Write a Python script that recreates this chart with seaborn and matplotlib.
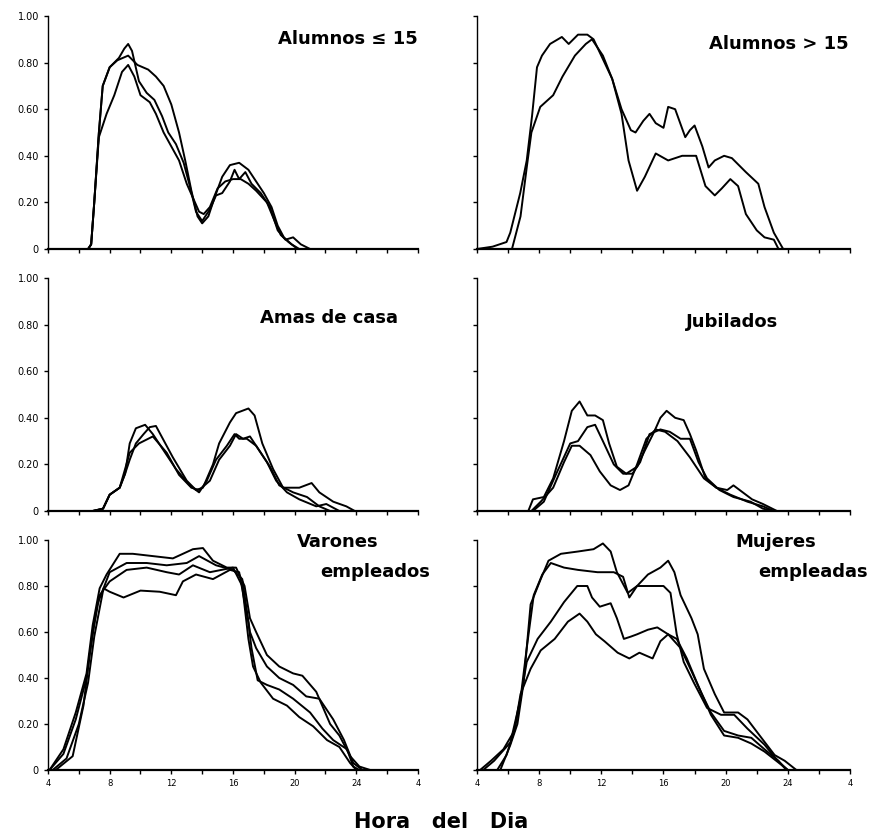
import numpy as np
import pandas as pd
import matplotlib
matplotlib.use("Agg")
import matplotlib.pyplot as plt
import seaborn as sns

# hour-of-day positions (4 .. 28 = 4 next morning) and share values
# --- Alumnos <= 15
alu15_a_h = [4, 6.6, 6.8, 7.0, 7.3, 7.55, 8.0, 8.5, 9.2, 9.8, 10.5, 11.0, 11.5, 12.0, 12.5, 12.9, 13.3, 13.7, 14.0, 14.4, 14.8, 15.3, 15.8, 16.4, 17.0, 17.5, 18.0, 18.5, 18.9, 19.3, 19.8, 20.3, 28]
alu15_a_v = [0, 0, 0.02, 0.2, 0.5, 0.7, 0.78, 0.81, 0.83, 0.79, 0.77, 0.74, 0.70, 0.62, 0.50, 0.38, 0.25, 0.14, 0.11, 0.14, 0.22, 0.31, 0.36, 0.37, 0.34, 0.29, 0.24, 0.18, 0.10, 0.05, 0.02, 0, 0]
alu15_b_h = [4, 6.6, 6.8, 7.0, 7.3, 7.55, 8.0, 8.6, 8.95, 9.2, 9.45, 9.9, 10.4, 10.9, 11.4, 11.8, 12.3, 12.8, 13.2, 13.6, 14.0, 14.5, 14.9, 15.3, 15.8, 16.1, 16.4, 16.8, 17.2, 17.8, 18.4, 18.9, 19.4, 19.9, 20.4, 21.0, 28]
alu15_b_v = [0, 0, 0.02, 0.2, 0.5, 0.7, 0.78, 0.82, 0.86, 0.88, 0.85, 0.72, 0.67, 0.64, 0.57, 0.50, 0.45, 0.37, 0.27, 0.16, 0.12, 0.17, 0.23, 0.24, 0.29, 0.34, 0.30, 0.33, 0.28, 0.24, 0.18, 0.08, 0.04, 0.05, 0.02, 0, 0]
alu15_c_h = [4, 6.6, 6.8, 7.0, 7.3, 7.8, 8.3, 8.8, 9.2, 9.6, 10.0, 10.6, 11.0, 11.5, 12.0, 12.5, 13.0, 13.4, 13.8, 14.1, 14.5, 15.0, 15.5, 16.0, 16.5, 17.0, 17.5, 18.2, 18.7, 19.1, 19.6, 20.2, 28]
alu15_c_v = [0, 0, 0.02, 0.2, 0.48, 0.58, 0.66, 0.76, 0.79, 0.74, 0.66, 0.63, 0.58, 0.50, 0.44, 0.38, 0.28, 0.22, 0.16, 0.15, 0.18, 0.26, 0.29, 0.30, 0.30, 0.28, 0.25, 0.20, 0.12, 0.06, 0.03, 0, 0]

# --- Alumnos > 15
alu16_a_h = [4, 5.0, 5.9, 6.14, 6.78, 7.2, 7.54, 7.86, 8.18, 8.7, 9.46, 9.9, 10.5, 11.1, 11.5, 12.7, 13.3, 13.75, 14.3, 14.8, 15.5, 16.3, 17.2, 18.1, 18.7, 19.3, 19.75, 20.3, 20.8, 21.3, 22.0, 22.5, 23.1, 23.4, 28]
alu16_a_v = [0, 0.01, 0.03, 0.07, 0.24, 0.38, 0.57, 0.78, 0.83, 0.88, 0.91, 0.88, 0.92, 0.92, 0.90, 0.73, 0.58, 0.38, 0.25, 0.31, 0.41, 0.38, 0.40, 0.40, 0.27, 0.23, 0.26, 0.30, 0.27, 0.15, 0.08, 0.05, 0.04, 0, 0]
alu16_b_h = [4, 6.25, 6.8, 7.2, 7.5, 8.07, 8.9, 9.5, 10.3, 11.0, 11.4, 12.1, 12.7, 13.3, 13.9, 14.2, 14.7, 15.1, 15.5, 16.0, 16.3, 16.75, 17.4, 17.7, 18.0, 18.5, 18.9, 19.3, 19.9, 20.4, 21.3, 22.1, 22.5, 23.1, 23.7, 28]
alu16_b_v = [0, 0, 0.14, 0.35, 0.50, 0.61, 0.66, 0.74, 0.83, 0.88, 0.90, 0.83, 0.73, 0.60, 0.51, 0.50, 0.55, 0.58, 0.54, 0.52, 0.61, 0.60, 0.48, 0.51, 0.53, 0.44, 0.35, 0.38, 0.40, 0.39, 0.33, 0.28, 0.18, 0.07, 0, 0]

# --- Amas de casa
amas_a_h = [4, 6.9, 7.57, 8.0, 8.65, 9.0, 9.3, 9.7, 10.2, 10.6, 11.0, 12.1, 13.0, 13.6, 14.05, 14.7, 15.1, 15.8, 16.2, 17.0, 17.4, 17.9, 18.6, 19.25, 20.3, 21.1, 21.6, 22.5, 23.35, 23.9, 28]
amas_a_v = [0, 0, 0.01, 0.07, 0.10, 0.16, 0.22, 0.29, 0.33, 0.36, 0.365, 0.23, 0.13, 0.09, 0.10, 0.20, 0.29, 0.38, 0.42, 0.44, 0.41, 0.29, 0.18, 0.10, 0.10, 0.12, 0.08, 0.04, 0.02, 0, 0]
amas_b_h = [4, 6.9, 7.57, 8.0, 8.65, 9.0, 9.3, 9.7, 10.3, 10.8, 11.5, 12.3, 13.2, 13.8, 14.3, 14.9, 15.6, 16.1, 16.4, 16.9, 17.5, 18.2, 18.8, 19.5, 20.3, 21.4, 22.05, 22.9, 28]
amas_b_v = [0, 0, 0.01, 0.07, 0.10, 0.16, 0.29, 0.355, 0.37, 0.33, 0.26, 0.18, 0.11, 0.08, 0.13, 0.22, 0.28, 0.33, 0.31, 0.31, 0.28, 0.21, 0.13, 0.08, 0.05, 0.02, 0.03, 0, 0]
amas_c_h = [4, 6.9, 7.57, 8.0, 8.65, 9.0, 9.3, 9.9, 10.8, 11.7, 12.5, 13.3, 13.8, 14.5, 15.1, 15.8, 16.2, 16.65, 17.1, 17.7, 18.4, 19.0, 19.9, 20.8, 21.6, 22.3, 28]
amas_c_v = [0, 0, 0.01, 0.07, 0.10, 0.18, 0.25, 0.29, 0.32, 0.25, 0.155, 0.10, 0.09, 0.13, 0.22, 0.28, 0.33, 0.31, 0.32, 0.26, 0.19, 0.11, 0.08, 0.06, 0.02, 0, 0]

# --- Jubilados
jub_a_h = [4, 7.3, 7.6, 8.3, 8.9, 9.6, 10.1, 10.6, 11.1, 11.6, 12.1, 12.5, 13.0, 13.6, 14.3, 14.8, 15.4, 15.8, 16.2, 16.75, 17.3, 17.7, 18.1, 18.7, 19.4, 20.1, 20.5, 20.9, 21.7, 22.4, 23.3, 28]
jub_a_v = [0, 0, 0.05, 0.06, 0.14, 0.30, 0.43, 0.47, 0.41, 0.41, 0.39, 0.29, 0.19, 0.16, 0.19, 0.26, 0.34, 0.40, 0.43, 0.40, 0.39, 0.33, 0.26, 0.14, 0.10, 0.09, 0.11, 0.09, 0.05, 0.03, 0, 0]
jub_b_h = [4, 7.6, 8.3, 9.1, 10.0, 10.5, 11.1, 11.6, 12.1, 12.8, 13.4, 14.0, 14.5, 15.1, 15.8, 16.4, 17.1, 17.7, 18.25, 18.8, 19.6, 20.5, 21.6, 22.4, 23.1, 28]
jub_b_v = [0, 0, 0.04, 0.16, 0.29, 0.30, 0.36, 0.37, 0.30, 0.20, 0.16, 0.16, 0.21, 0.33, 0.35, 0.34, 0.31, 0.31, 0.21, 0.14, 0.09, 0.06, 0.04, 0.01, 0, 0]
jub_c_h = [4, 7.5, 8.1, 8.9, 9.6, 10.1, 10.6, 11.3, 11.9, 12.6, 13.2, 13.75, 14.3, 14.9, 15.5, 16.1, 16.9, 17.7, 18.6, 19.4, 20.3, 21.4, 22.4, 23.1, 28]
jub_c_v = [0, 0, 0.04, 0.10, 0.21, 0.28, 0.28, 0.24, 0.17, 0.11, 0.09, 0.11, 0.20, 0.31, 0.35, 0.34, 0.30, 0.23, 0.14, 0.10, 0.07, 0.04, 0.02, 0, 0]

# --- Varones empleados
var_a_h = [4, 4.1, 5.0, 5.8, 6.5, 6.9, 7.35, 7.8, 8.65, 9.5, 10.8, 12.1, 13.4, 14.05, 14.7, 15.6, 16.2, 16.75, 17.1, 17.5, 18.2, 19.0, 19.9, 20.5, 21.4, 22.3, 22.9, 23.6, 24.2, 24.9, 28]
var_a_v = [0, 0, 0.09, 0.25, 0.42, 0.63, 0.79, 0.85, 0.94, 0.94, 0.93, 0.92, 0.96, 0.965, 0.91, 0.88, 0.88, 0.80, 0.66, 0.60, 0.50, 0.45, 0.42, 0.41, 0.34, 0.20, 0.15, 0.06, 0.015, 0, 0]
var_b_h = [4, 4.5, 5.6, 6.3, 6.7, 7.2, 8.0, 9.1, 10.4, 11.7, 13.0, 13.8, 14.9, 16.0, 16.6, 17.1, 17.5, 18.2, 19.0, 19.9, 20.75, 21.6, 22.5, 23.2, 23.8, 24.4, 28]
var_b_v = [0, 0, 0.06, 0.28, 0.50, 0.72, 0.86, 0.90, 0.90, 0.89, 0.90, 0.93, 0.89, 0.87, 0.83, 0.60, 0.53, 0.45, 0.40, 0.37, 0.32, 0.31, 0.22, 0.13, 0.03, 0, 0]
var_c_h = [4, 4.1, 5.0, 5.8, 6.5, 6.9, 7.35, 8.0, 9.1, 10.4, 11.7, 12.5, 13.4, 14.5, 16.0, 16.6, 17.0, 17.3, 17.8, 18.6, 19.5, 20.3, 21.2, 22.1, 22.9, 23.6, 24.0, 28]
var_c_v = [0, 0, 0.07, 0.22, 0.40, 0.60, 0.76, 0.82, 0.87, 0.88, 0.86, 0.85, 0.89, 0.86, 0.88, 0.80, 0.57, 0.45, 0.38, 0.31, 0.28, 0.23, 0.19, 0.13, 0.10, 0.03, 0, 0]
var_d_h = [4, 4.3, 5.2, 6.0, 6.6, 7.0, 7.6, 8.0, 8.9, 10.0, 11.25, 12.3, 12.75, 13.6, 14.7, 15.8, 16.4, 17.0, 17.2, 17.6, 18.2, 19.0, 19.9, 21.0, 21.8, 22.5, 23.4, 23.8, 24.2, 28]
var_d_v = [0, 0, 0.05, 0.20, 0.38, 0.58, 0.79, 0.775, 0.75, 0.78, 0.775, 0.76, 0.82, 0.85, 0.83, 0.87, 0.86, 0.64, 0.53, 0.39, 0.37, 0.35, 0.31, 0.25, 0.18, 0.13, 0.09, 0.015, 0, 0]

# --- Mujeres empleadas
muj_a_h = [4, 5.5, 6.15, 6.6, 7.0, 7.45, 8.1, 8.6, 9.4, 10.5, 11.5, 12.1, 12.6, 13.0, 13.7, 14.3, 15.0, 15.8, 16.3, 16.7, 17.1, 17.8, 18.2, 18.6, 19.3, 19.9, 20.8, 21.4, 22.3, 23.15, 23.8, 24.55, 28]
muj_a_v = [0, 0, 0.11, 0.20, 0.38, 0.72, 0.83, 0.91, 0.94, 0.95, 0.96, 0.985, 0.95, 0.86, 0.77, 0.80, 0.85, 0.88, 0.91, 0.86, 0.76, 0.66, 0.59, 0.44, 0.33, 0.25, 0.25, 0.22, 0.14, 0.065, 0.04, 0, 0]
muj_b_h = [4, 4.2, 4.9, 5.7, 6.4, 6.8, 7.2, 7.65, 8.2, 8.75, 9.6, 10.5, 11.75, 12.8, 13.4, 13.8, 14.3, 15.2, 16.0, 16.45, 16.85, 17.3, 17.95, 18.8, 19.7, 20.55, 21.4, 22.5, 23.35, 24.0, 28]
muj_b_v = [0, 0, 0.04, 0.09, 0.17, 0.31, 0.53, 0.76, 0.85, 0.90, 0.88, 0.87, 0.86, 0.86, 0.84, 0.75, 0.80, 0.80, 0.80, 0.77, 0.59, 0.47, 0.38, 0.27, 0.24, 0.24, 0.18, 0.11, 0.04, 0, 0]
muj_c_h = [4, 4.4, 5.1, 6.15, 6.8, 7.2, 7.9, 8.75, 9.6, 10.45, 11.1, 11.4, 11.9, 12.6, 13.0, 13.45, 13.9, 14.3, 15.0, 15.6, 16.3, 17.1, 17.8, 18.4, 19.05, 19.9, 20.8, 21.65, 22.5, 23.4, 23.9, 28]
muj_c_v = [0, 0, 0.04, 0.12, 0.31, 0.47, 0.57, 0.645, 0.73, 0.80, 0.80, 0.75, 0.71, 0.725, 0.66, 0.57, 0.58, 0.59, 0.61, 0.62, 0.59, 0.53, 0.43, 0.34, 0.25, 0.17, 0.15, 0.14, 0.09, 0.04, 0, 0]
muj_d_h = [4, 5.3, 5.9, 6.4, 6.8, 7.45, 8.1, 9.0, 9.85, 10.6, 11.1, 11.65, 12.2, 13.05, 13.8, 14.45, 15.3, 15.8, 16.3, 16.85, 17.5, 18.15, 19.05, 19.9, 20.8, 21.65, 22.5, 23.35, 24.0, 28]
muj_d_v = [0, 0, 0.065, 0.17, 0.33, 0.44, 0.52, 0.57, 0.645, 0.68, 0.645, 0.59, 0.56, 0.51, 0.485, 0.51, 0.485, 0.56, 0.59, 0.57, 0.485, 0.38, 0.24, 0.15, 0.14, 0.115, 0.08, 0.035, 0, 0]

panels = [
    [(alu15_a_h, alu15_a_v), (alu15_b_h, alu15_b_v), (alu15_c_h, alu15_c_v)],
    [(alu16_a_h, alu16_a_v), (alu16_b_h, alu16_b_v)],
    [(amas_a_h, amas_a_v), (amas_b_h, amas_b_v), (amas_c_h, amas_c_v)],
    [(jub_a_h, jub_a_v), (jub_b_h, jub_b_v), (jub_c_h, jub_c_v)],
    [(var_a_h, var_a_v), (var_b_h, var_b_v), (var_c_h, var_c_v), (var_d_h, var_d_v)],
    [(muj_a_h, muj_a_v), (muj_b_h, muj_b_v), (muj_c_h, muj_c_v), (muj_d_h, muj_d_v)],
]

y_ticks = [0, 0.2, 0.4, 0.6, 0.8, 1.0]
y_labels = ["0", "0.20", "0.40", "0.60", "0.80", "1.00"]
x_ticks = [4, 8, 12, 16, 20, 24, 28]
x_labels = ["4", "8", "12", "16", "20", "24", "4"]

rows = []
for p, curves in enumerate(panels):
    for c, (h, v) in enumerate(curves):
        for hh, vv in zip(h, v):
            rows.append({"panel": p, "curve": c, "hour": hh, "value": vv})
df = pd.DataFrame(rows)

sns.set_style("ticks")
plt.rcParams["font.family"] = ["DejaVu Sans"]
plt.rcParams["text.color"] = "black"
plt.rcParams["xtick.color"] = "black"
plt.rcParams["ytick.color"] = "black"
plt.rcParams["axes.edgecolor"] = "black"

fig = plt.figure(figsize=(8.79, 8.34), dpi=100)
W, H = 879, 834
col_x = [(48, 370), (477, 373)]
row_y = [(16, 233), (278, 233), (540, 230)]

# panel titles in axes fraction: (text, x, y, ha)
title_pos = [
    [("Alumnos ≤ 15", 1.0, 0.90, "right")],
    [("Alumnos > 15", 0.995, 0.88, "right")],
    [("Amas de casa", 0.946, 0.83, "right")],
    [("Jubilados", 0.684, 0.81, "center")],
    [("Varones", 0.784, 0.99, "center"), ("empleados", 0.884, 0.86, "center")],
    [("Mujeres", 0.80, 0.99, "center"), ("empleadas", 0.90, 0.86, "center")],
]

for p in range(6):
    r, c = divmod(p, 2)
    x0, w = col_x[c]
    y0, h = row_y[r]
    ax = fig.add_axes([x0 / W, 1 - (y0 + h) / H, w / W, h / H])
    sub = df[df["panel"] == p]
    sns.lineplot(data=sub, x="hour", y="value", units="curve", estimator=None,
                 sort=False, color="black", lw=1.4, ax=ax,
                 solid_joinstyle="round", solid_capstyle="round")
    ax.set_xlim(4, 28)
    ax.set_ylim(0, 1.0)
    sns.despine(ax=ax)
    ax.spines["left"].set_linewidth(1.0)
    ax.spines["bottom"].set_linewidth(1.6)
    ax.set_xticks(x_ticks)
    ax.set_xticks(np.arange(6, 28, 4), minor=True)
    ax.set_yticks(y_ticks)
    ax.tick_params(axis="both", which="both", length=3, width=1, direction="out")
    if c == 0:
        ax.set_yticklabels(y_labels, fontsize=7)
    else:
        ax.set_yticklabels([])
    if r == 2:
        ax.set_xticklabels(x_labels, fontsize=6)
    else:
        ax.set_xticklabels([])
    ax.set_xlabel("")
    ax.set_ylabel("")
    for txt, tx, ty, ha in title_pos[p]:
        ax.text(tx, ty, txt, transform=ax.transAxes, ha=ha, va="center",
                fontsize=13, fontweight="bold", clip_on=False)

fig.text(441 / W, 1 - 822 / H, "Hora   del   Dia", ha="center", va="center",
         fontsize=15, fontweight="bold")

fig.savefig("out.png", dpi=100)
